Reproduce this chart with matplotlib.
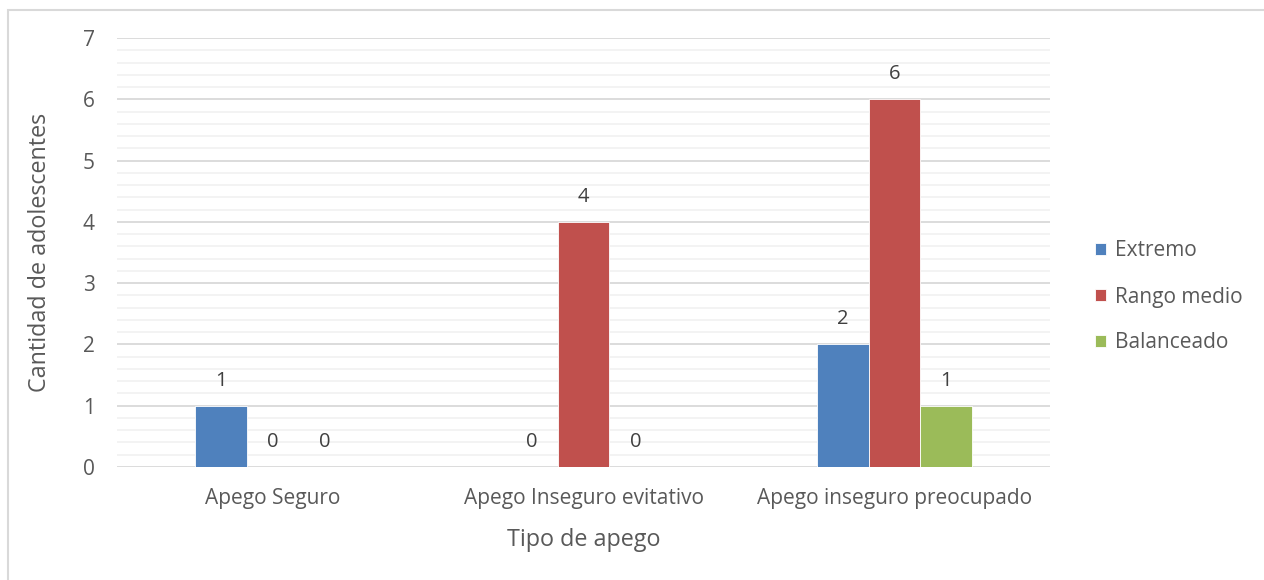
import numpy as np
import matplotlib
matplotlib.use('Agg')
import matplotlib.pyplot as plt
from matplotlib.patches import Rectangle

plt.rcParams['font.family'] = ['Open Sans', 'DejaVu Sans']

categories = ['Apego Seguro', 'Apego Inseguro evitativo', 'Apego inseguro preocupado']
series = ['Extremo', 'Rango medio', 'Balanceado']
extremo = [1, 0, 2]
rango_medio = [0, 4, 6]
balanceado = [0, 0, 1]
colors = ['#4F81BD', '#C0504D', '#9BBB59']

text_color = '#595959'
grid_major = '#D9D9D9'
grid_minor = '#F2F2F2'

fig = plt.figure(figsize=(12.64, 5.8), dpi=100)
ax = fig.add_axes([117 / 1264, 1 - 467 / 580, (1050 - 117) / 1264, (467 - 38) / 580])

# outer chart border (only top and left edges visible in the picture)
fig.patches.append(Rectangle((8 / 1264, -0.1), 1.2, 1 - 10 / 580 + 0.1,
                             transform=fig.transFigure, fill=False,
                             edgecolor='#D9D9D9', linewidth=1.5))

x = np.arange(len(categories))
width = 0.167
for i, (name, vals) in enumerate(zip(series, [extremo, rango_medio, balanceado])):
    pos = x + (i - 1) * width
    ax.bar(pos, vals, width, color=colors[i], label=name, zorder=3,
           edgecolor='white', linewidth=0.6)
    for xp, v in zip(pos, vals):
        ax.annotate(str(v), (xp, v), xytext=(0, 18), textcoords='offset points',
                    ha='center', va='center', fontsize=14.5, color='#404040')

ax.set_xlim(-0.5, 2.5)
ax.set_ylim(0, 7)
ax.set_yticks(range(0, 8))
ax.set_yticks(np.arange(0, 7.01, 0.2), minor=True)
ax.grid(axis='y', which='major', color=grid_major, linewidth=1.3, zorder=0)
ax.grid(axis='y', which='minor', color=grid_minor, linewidth=1.3, zorder=0)
ax.set_axisbelow(True)
for s in ax.spines.values():
    s.set_visible(False)
ax.tick_params(axis='both', which='both', length=0, colors='#595959', labelsize=15)
ax.tick_params(axis='y', pad=16)
ax.tick_params(axis='x', pad=15)
ax.set_xticks(x)
ax.set_xticklabels(categories)

ax.set_xlabel('Tipo de apego', fontsize=16.8, color=text_color, labelpad=14)
ax.set_ylabel('Cantidad de adolescentes', fontsize=16.8, color=text_color, labelpad=22)

leg = fig.legend(loc='center left', bbox_to_anchor=(1076 / 1264, 1 - 297 / 580),
                 frameon=False, fontsize=15, handlelength=0.55, handleheight=0.55,
                 handletextpad=0.4, labelspacing=1.2)
for t in leg.get_texts():
    t.set_color(text_color)

fig.savefig('out.png', dpi=100, facecolor='white')
